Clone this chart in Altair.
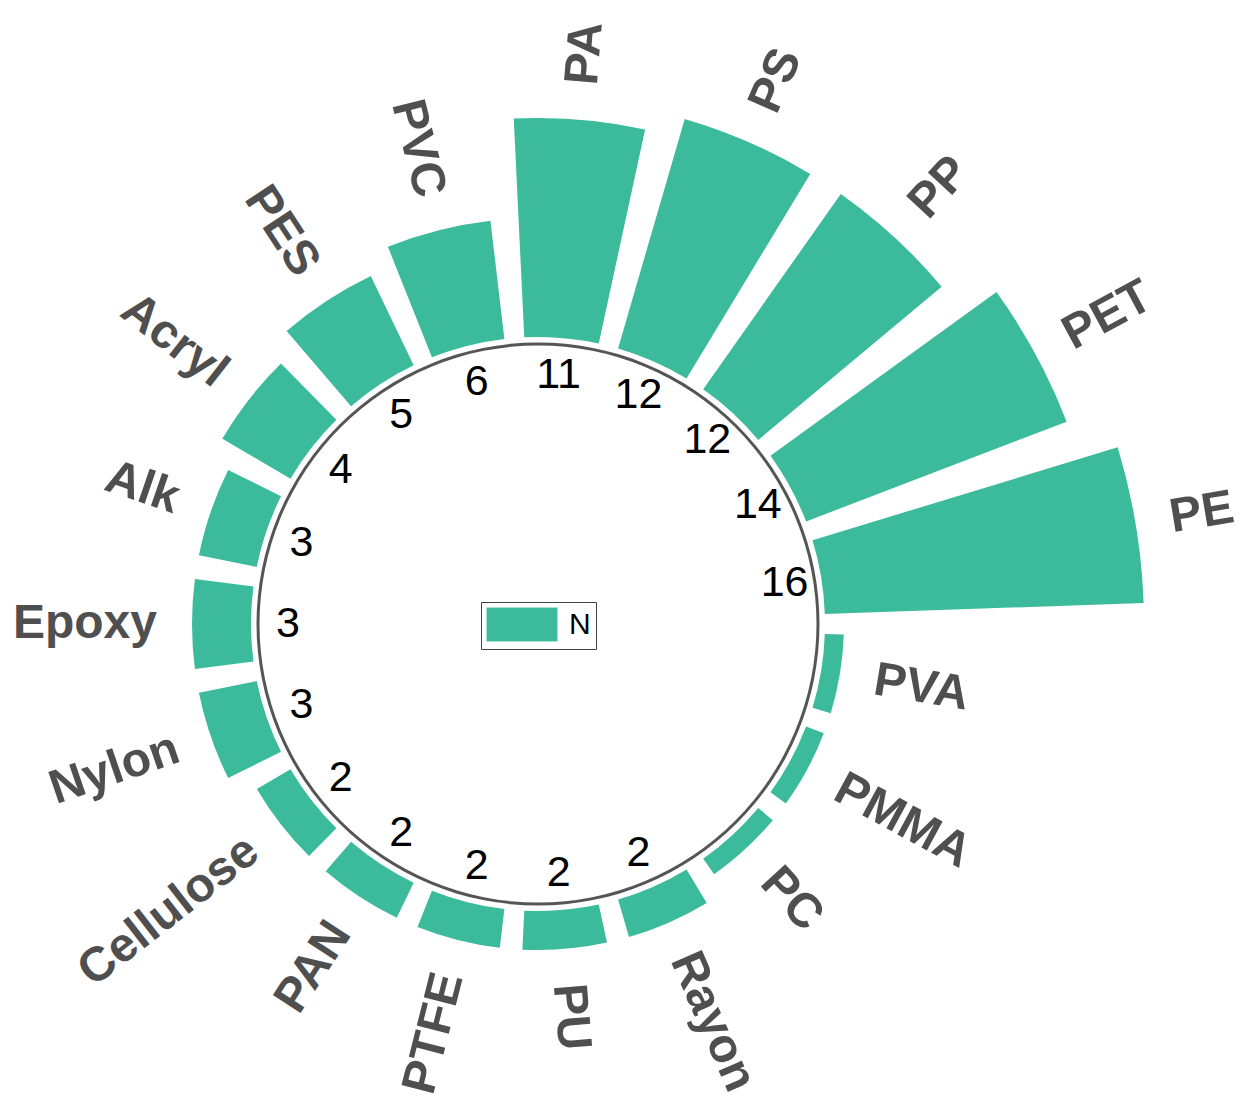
import math
import altair as alt
import pandas as pd

# ---- data ----
categories = ["PE", "PET", "PP", "PS", "PA", "PVC", "PES", "Acryl", "Alk", "Epoxy",
              "Nylon", "Cellulose", "PAN", "PTFE", "PU", "Rayon", "PC", "PMMA", "PVA"]
values = [16, 14, 12, 12, 11, 6, 5, 4, 3, 3, 3, 2, 2, 2, 2, 2, 1, 1, 1]
series_name = "N"

n = len(categories)
df = pd.DataFrame({"cat": categories, "value": values})
df["i"] = range(n)
df["series"] = series_name

FONT = "Liberation Sans"
TEAL = "#3bbb9c"
GREY = "#4f4f4f"
SLOT_PAD = 0.105  # fraction of each angular slot left empty on each side

theta_scale = alt.Scale(domain=[0, n], range=[2.5 * math.pi, 0.5 * math.pi])
radius_scale = alt.Scale(domain=[0, 16], range=[286, 606], zero=True)

base = alt.Chart(df).transform_calculate(
    i0="datum.i + %f" % SLOT_PAD,
    i1="datum.i + 1 - %f" % SLOT_PAD,
    imid="datum.i + 0.5",
).transform_calculate(
    t="((450 - (datum.imid) * 360 / %d) %% 360 + 360) %% 360" % n
).transform_calculate(
    right="datum.t < 180",
    ang="datum.t < 180 ? (datum.t - 90 + 360) % 360 : (datum.t - 270 + 360) % 360",
)

bars = base.mark_arc(innerRadius=287).encode(
    theta=alt.Theta("i0:Q", scale=theta_scale, stack=None),
    theta2="i1:Q",
    radius=alt.Radius("value:Q", scale=radius_scale),
    color=alt.Color(
        "series:N",
        scale=alt.Scale(domain=[series_name], range=[TEAL]),
        legend=alt.Legend(
            title=None,
            orient="none",
            legendX=473,
            legendY=458,
            symbolType="M-1,-1H3.18V1H-1Z",
            symbolSize=1156,
            symbolStrokeColor="#a8e0d2",
            symbolStrokeWidth=1,
            symbolOpacity=1,
            labelFont=FONT,
            labelFontSize=30,
            labelColor="black",
            labelOffset=48,
            padding=5,
            strokeColor="#444444",
            fillColor="white",
        ),
    ),
)

ring_df = pd.DataFrame({"k": [1]})
ring = alt.Chart(ring_df).mark_arc(
    radius=281.5, radius2=278.5, theta=0, theta2=2 * math.pi
).encode(color=alt.value("#555555"))

labels_right = base.transform_filter("datum.right").mark_text(
    font=FONT, fontSize=48, fontWeight="bold", color=GREY,
    align="left", baseline="middle", radiusOffset=35,
).encode(
    theta=alt.Theta("imid:Q", scale=theta_scale, stack=None),
    radius=alt.Radius("value:Q", scale=radius_scale),
    angle=alt.Angle("ang:Q", scale=None),
    text="cat:N",
)

labels_left = base.transform_filter("!datum.right").mark_text(
    font=FONT, fontSize=48, fontWeight="bold", color=GREY,
    align="right", baseline="middle", radiusOffset=35,
).encode(
    theta=alt.Theta("imid:Q", scale=theta_scale, stack=None),
    radius=alt.Radius("value:Q", scale=radius_scale),
    angle=alt.Angle("ang:Q", scale=None),
    text="cat:N",
)

numbers = base.transform_filter("datum.value >= 2").mark_text(
    font=FONT, fontSize=43, color="black", align="center", baseline="middle",
).encode(
    theta=alt.Theta("imid:Q", scale=theta_scale, stack=None),
    radius=alt.value(250),
    text="value:Q",
)

chart = alt.layer(ring, bars, labels_right, labels_left, numbers).properties(
    width=1060,
    height=960,
    padding={"left": 0, "top": 136, "right": 168, "bottom": 0},
    autosize=alt.AutoSizeParams(type="none"),
).configure_view(stroke=None)

chart.save("out.html", embed_options={"renderer": "svg", "actions": False})
